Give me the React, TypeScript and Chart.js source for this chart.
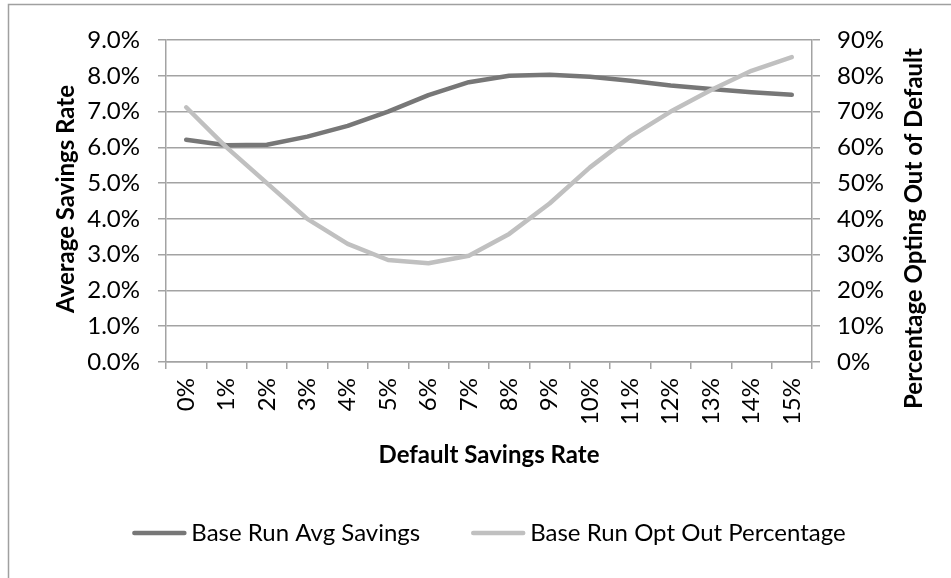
import React, { useEffect, useRef } from "react";
import { Chart, registerables } from "chart.js";

Chart.register(...registerables);

const categories = ["0%", "1%", "2%", "3%", "4%", "5%", "6%", "7%", "8%", "9%", "10%", "11%", "12%", "13%", "14%", "15%"];
const avgSavings = [6.21, 6.06, 6.07, 6.3, 6.6, 7.0, 7.46, 7.82, 8.0, 8.03, 7.97, 7.86, 7.73, 7.63, 7.54, 7.47];
const optOutPct = [71.2, 60.0, 50.0, 40.0, 33.0, 28.5, 27.6, 29.7, 35.8, 44.3, 54.4, 63.0, 70.0, 76.0, 81.4, 85.2];
const leftTickLabels = ["0.0%", "1.0%", "2.0%", "3.0%", "4.0%", "5.0%", "6.0%", "7.0%", "8.0%", "9.0%"];
const rightTickLabels = ["0%", "10%", "20%", "30%", "40%", "50%", "60%", "70%", "80%", "90%"];
const seriesNames = ["Base Run Avg Savings", "Base Run Opt Out Percentage"];
const seriesColors = ["#777777", "#c0c0c0"];
const xTitle = "Default Savings Rate";
const leftTitle = "Average Savings Rate";
const rightTitle = "Percentage Opting Out of Default";

const FONT = "Lato";
const SIZE = 24;
const GRID = "#a3a3a3";

const decorPlugin = {
  id: "decor",
  afterDraw(chart: any) {
    const ctx = chart.ctx as CanvasRenderingContext2D;
    const area = chart.chartArea;
    ctx.save();
    // outer frame
    ctx.strokeStyle = "#a0a0a0";
    ctx.lineWidth = 1.5;
    ctx.beginPath();
    ctx.moveTo(8.5, chart.height);
    ctx.lineTo(8.5, 4.5);
    ctx.lineTo(chart.width, 4.5);
    ctx.stroke();

    ctx.fillStyle = "#000";
    ctx.font = `bold ${SIZE}px ${FONT}`;
    ctx.textBaseline = "middle";
    const cy = (area.top + area.bottom) / 2;
    const cx = (area.left + area.right) / 2;
    // y titles
    ctx.textAlign = "center";
    ctx.save();
    ctx.translate(66, cy - 2);
    ctx.rotate(-Math.PI / 2);
    ctx.fillText(leftTitle, 0, 0);
    ctx.restore();
    ctx.save();
    ctx.translate(914, 48);
    ctx.rotate(-Math.PI / 2);
    ctx.textAlign = "right";
    ctx.fillText(rightTitle, 0, 0);
    ctx.restore();
    // x title
    ctx.textAlign = "center";
    ctx.fillText(xTitle, cx, 455);

    // legend
    ctx.font = `${SIZE}px ${FONT}`;
    ctx.textAlign = "left";
    const lineLen = 54;
    const gapText = 5;
    const gapItem = 51;
    const widths = seriesNames.map((n) => ctx.measureText(n).width);
    const total = widths.reduce((a, w) => a + lineLen + gapText + w, 0) + gapItem * (seriesNames.length - 1);
    let x = cx - total / 2;
    const ly = 533;
    seriesNames.forEach((name, i) => {
      ctx.strokeStyle = seriesColors[i];
      ctx.lineWidth = 4.5;
      ctx.lineCap = "round";
      ctx.beginPath();
      ctx.moveTo(x + 2, ly);
      ctx.lineTo(x + lineLen - 2, ly);
      ctx.stroke();
      ctx.fillText(name, x + lineLen + gapText, ly);
      x += lineLen + gapText + widths[i] + gapItem;
    });
    ctx.restore();
  },
};

export default function App() {
  const ref = useRef<HTMLCanvasElement | null>(null);
  useEffect(() => {
    if (!ref.current) return;
    Chart.defaults.font.family = FONT;
    Chart.defaults.font.size = SIZE;
    Chart.defaults.color = "#000";
    const chart = new Chart(ref.current, {
      type: "line",
      data: {
        labels: categories,
        datasets: [
          {
            label: seriesNames[0],
            data: avgSavings,
            yAxisID: "y",
            borderColor: seriesColors[0],
            backgroundColor: seriesColors[0],
            borderWidth: 4.5,
            pointRadius: 0,
            tension: 0,
            borderCapStyle: "round",
            borderJoinStyle: "round",
            order: 1,
          },
          {
            label: seriesNames[1],
            data: optOutPct,
            yAxisID: "y1",
            borderColor: seriesColors[1],
            backgroundColor: seriesColors[1],
            borderWidth: 4.5,
            pointRadius: 0,
            tension: 0,
            borderCapStyle: "round",
            borderJoinStyle: "round",
            order: 0,
          },
        ],
      },
      options: {
        responsive: false,
        animation: false,
        layout: { padding: { top: 40, left: 0, right: 0, bottom: 0 } },
        plugins: { legend: { display: false }, tooltip: { enabled: false } },
        scales: {
          x: {
            type: "category",
            offset: true,
            grid: { offset: true, drawOnChartArea: false, color: GRID, lineWidth: 1.5, tickLength: 7 },
            border: { color: GRID, width: 1.5 },
            ticks: { minRotation: 90, maxRotation: 90, padding: 9, autoSkip: false, font: { size: SIZE, family: FONT } },
            afterFit: (s: any) => { s.height = 216; },
          },
          y: {
            position: "left",
            min: 0,
            max: 9,
            grid: { color: GRID, lineWidth: 1.5, tickLength: 8 },
            border: { color: GRID, width: 1.5 },
            ticks: {
              stepSize: 1,
              padding: 18,
              font: { size: SIZE, family: FONT },
              callback: (_v: any, i: number) => leftTickLabels[i],
            },
            afterFit: (s: any) => { s.width = 166; },
          },
          y1: {
            position: "right",
            min: 0,
            max: 90,
            grid: { drawOnChartArea: false, color: GRID, lineWidth: 1.5, tickLength: 8 },
            border: { color: GRID, width: 1.5 },
            ticks: {
              stepSize: 10,
              padding: 17,
              font: { size: SIZE, family: FONT },
              callback: (_v: any, i: number) => rightTickLabels[i],
            },
            afterFit: (s: any) => { s.width = 139; },
          },
        },
      },
      plugins: [decorPlugin],
    } as any);
    return () => chart.destroy();
  }, []);
  return (
    <div style={{ position: "fixed", left: 0, top: 0, width: 951, height: 578, background: "#fff" }}>
      <canvas ref={ref} width={951} height={578} style={{ width: 951, height: 578, display: "block" }} />
    </div>
  );
}
